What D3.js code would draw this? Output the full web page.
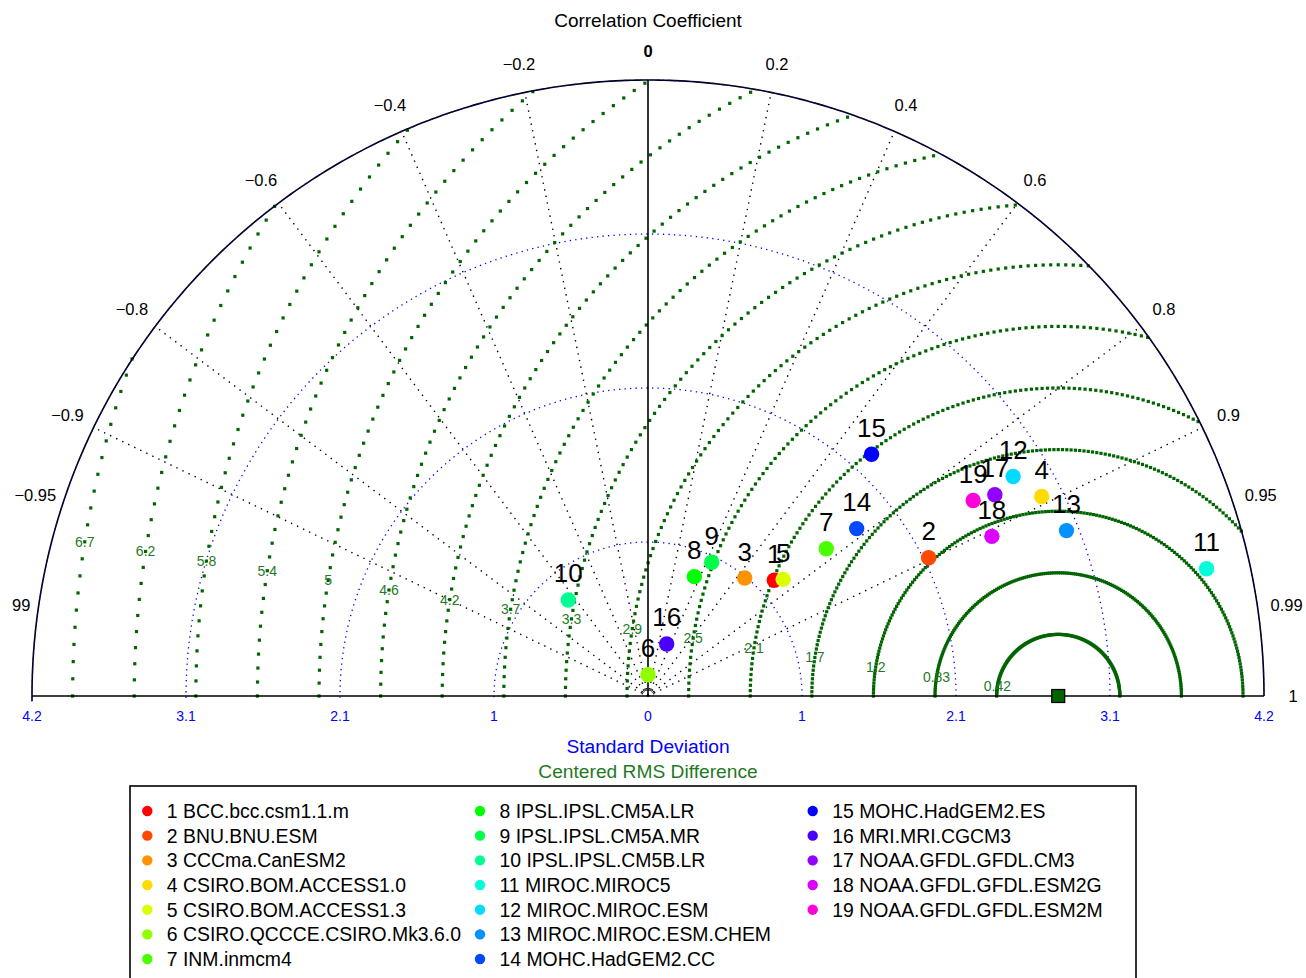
<!DOCTYPE html>
<html><head><meta charset="utf-8">
<script src="https://cdn.jsdelivr.net/npm/d3@7"></script>
<style>
html,body{margin:0;padding:0;background:#fff;overflow:hidden}
text{font-family:"Liberation Sans",Arial,Helvetica,sans-serif}
</style></head>
<body>
<svg id="chart" width="1306" height="978"></svg>
<script>
// ---------- data ----------
const models = ["BCC.bcc.csm1.1.m","BNU.BNU.ESM","CCCma.CanESM2","CSIRO.BOM.ACCESS1.0","CSIRO.BOM.ACCESS1.3",
  "CSIRO.QCCCE.CSIRO.Mk3.6.0","INM.inmcm4","IPSL.IPSL.CM5A.LR","IPSL.IPSL.CM5A.MR","IPSL.IPSL.CM5B.LR",
  "MIROC.MIROC5","MIROC.MIROC.ESM","MIROC.MIROC.ESM.CHEM","MOHC.HadGEM2.CC","MOHC.HadGEM2.ES",
  "MRI.MRI.CGCM3","NOAA.GFDL.GFDL.CM3","NOAA.GFDL.GFDL.ESM2G","NOAA.GFDL.GFDL.ESM2M"];
const stdDev = [1.168,2.133,1.040,3.009,1.217,0.145,1.577,0.873,1.010,0.851,3.906,2.905,3.068,1.824,2.245,0.377,2.734,2.585,2.587];
const corrCoef = [0.737,0.897,0.634,0.892,0.757,0.0,0.771,0.362,0.430,-0.639,0.975,0.857,0.930,0.780,0.679,0.338,0.865,0.907,0.857];
const colors = ["#ff0000","#ff4900","#ff9200","#ffdb00","#dbff00","#92ff00","#49ff00","#00ff00","#00ff49","#00ff92",
  "#00ffdb","#00dbff","#0092ff","#0049ff","#0000ff","#4900ff","#9200ff","#db00ff","#ff00db"];
const refStd = 2.797;
const stdMax = 4.2;
const stdTicks = [-4.2,-3.15,-2.1,-1.05,0,1.05,2.1,3.15,4.2];
const stdTickLabels = ["4.2","3.1","2.1","1","0","1","2.1","3.1","4.2"];
const stdCircles = [1.05,2.1,3.15];
const corrTicks = [-0.99,-0.95,-0.9,-0.8,-0.6,-0.4,-0.2,0,0.2,0.4,0.6,0.8,0.9,0.95,0.99,1];
const corrTickLabels = ["\u22120.99","\u22120.95","\u22120.9","\u22120.8","\u22120.6","\u22120.4","\u22120.2","0","0.2","0.4","0.6","0.8","0.9","0.95","0.99","1"];
const corrLines = [-0.9,-0.8,-0.6,-0.4,-0.2,0.2,0.4,0.6,0.8,0.9];
const rmsLevels = [0.42,0.84,1.26,1.68,2.1,2.52,2.94,3.36,3.78,4.2,4.62,5.04,5.46,5.88,6.3,6.72];
const rmsLabels = ["0.42","0.83","1.2","1.7","2.1","2.5","2.9","3.3","3.7","4.2","4.6","5","5.4","5.8","6.2","6.7"];

// ---------- scales ----------
const svg = d3.select("#chart");
const x = d3.scaleLinear().domain([-stdMax, stdMax]).range([32, 1264]);
const y = d3.scaleLinear().domain([0, stdMax]).range([696, 80]);
const k = x(1) - x(0);
const px = (s, c) => x(s * c);
const py = (s, c) => y(s * Math.sqrt(Math.max(0, 1 - c * c)));
const green = "#006400", textGreen = "#1f7a1f";

svg.append("defs").append("clipPath").attr("id","pageclip")
  .append("rect").attr("x",11).attr("y",0).attr("width",1295).attr("height",978);

// std dotted circles (blue)
const arc = (r) => { const pts = d3.range(0, 181, 0.5).map(a => [x(r*Math.cos(a*Math.PI/180)), y(r*Math.sin(a*Math.PI/180))]); return d3.line()(pts); };
svg.append("g").selectAll("path").data(stdCircles).join("path")
  .attr("d", d => arc(d)).attr("fill","none").attr("stroke","#0000ff")
  .attr("stroke-width",1.3).attr("stroke-dasharray","1.3,4.2");

// correlation dotted lines
svg.append("g").selectAll("line").data(corrLines).join("line")
  .attr("x1", x(0)).attr("y1", y(0))
  .attr("x2", d => px(stdMax, d)).attr("y2", d => py(stdMax, d))
  .attr("stroke","#000").attr("stroke-width",1.4).attr("stroke-dasharray","1.4,5.3");

// RMS dotted circles (green squares every degree)
const rmsDots = [];
rmsLevels.forEach(r => {
  for (let a = 0; a <= 180; a += 1) {
    const sx = refStd + r*Math.cos(a*Math.PI/180), sy = r*Math.sin(a*Math.PI/180);
    if (Math.hypot(sx, sy) <= stdMax + 0.005) rmsDots.push([sx, sy]);
  }
});
svg.append("g").selectAll("rect").data(rmsDots).join("rect")
  .attr("x", d => x(d[0]) - 1.6).attr("y", d => y(d[1]) - 1.6)
  .attr("width", 3.2).attr("height", 3.2).attr("fill", green);

// RMS labels
const la = 171*Math.PI/180;
svg.append("g").selectAll("text").data(rmsLevels).join("text")
  .attr("x", d => x(refStd + d*Math.cos(la))).attr("y", d => y(d*Math.sin(la)))
  .attr("text-anchor","middle").attr("dominant-baseline","central")
  .attr("font-size",14).attr("fill",textGreen).text((d,i) => rmsLabels[i]);

// outer circle
svg.append("path").attr("d", arc(stdMax)).attr("fill","none").attr("stroke","#000").attr("stroke-width",1.6);
svg.append("path").attr("d", arc(stdMax)).attr("fill","none").attr("stroke","#0000ff").attr("stroke-width",1.2).attr("stroke-dasharray","1.3,4.2");

// axis line and vertical zero-corr line
svg.append("line").attr("x1", x(-stdMax)).attr("x2", x(stdMax)).attr("y1", y(0)).attr("y2", y(0)).attr("stroke","#000").attr("stroke-width",1.6);
svg.append("line").attr("x1", x(0)).attr("x2", x(0)).attr("y1", y(0)).attr("y2", y(stdMax)).attr("stroke","#000").attr("stroke-width",1.6);
// tiny arc at origin
svg.append("path").attr("d", d3.line()(d3.range(15,166,5).map(a=>[x(0)+6*Math.cos(a*Math.PI/180), y(0)-6*Math.sin(a*Math.PI/180)])))
  .attr("fill","none").attr("stroke","#000").attr("stroke-width",1);

// std tick labels
svg.append("g").selectAll("text").data(stdTicks).join("text")
  .attr("x", d => x(d)).attr("y", 716).attr("text-anchor","middle").attr("dominant-baseline","central")
  .attr("font-size",14).attr("fill","#0000ff").text((d,i) => stdTickLabels[i]);

// correlation tick labels
const lr = 645/k;
svg.append("g").attr("clip-path","url(#pageclip)").selectAll("text").data(corrTicks).join("text")
  .attr("x", d => px(lr, d)).attr("y", d => py(lr, d))
  .attr("text-anchor","middle").attr("dominant-baseline","central")
  .attr("font-size",16.5).attr("fill","#000")
  .attr("font-weight", d => d === 0 ? "bold" : "normal")
  .text((d,i) => corrTickLabels[i]);

// titles
svg.append("text").attr("x",648).attr("y",20).attr("text-anchor","middle").attr("dominant-baseline","central")
  .attr("font-size",19).text("Correlation Coefficient");
svg.append("text").attr("x",648).attr("y",746).attr("text-anchor","middle").attr("dominant-baseline","central")
  .attr("font-size",19.2).attr("fill","#0000ff").text("Standard Deviation");
svg.append("text").attr("x",648).attr("y",771).attr("text-anchor","middle").attr("dominant-baseline","central")
  .attr("font-size",19.2).attr("fill",textGreen).text("Centered RMS Difference");

// reference point
svg.append("rect").attr("x", x(refStd)-6.5).attr("y", y(0)-6.5).attr("width",13).attr("height",13)
  .attr("fill",green).attr("stroke","#000").attr("stroke-width",1.2);

// model points
const pts = svg.append("g");
pts.selectAll("circle").data(models).join("circle")
  .attr("cx", (d,i) => px(stdDev[i], corrCoef[i])).attr("cy", (d,i) => py(stdDev[i], corrCoef[i]))
  .attr("r", 7.7).attr("fill", (d,i) => colors[i]);
pts.selectAll("text").data(models).join("text")
  .attr("x", (d,i) => px(stdDev[i], corrCoef[i])).attr("y", (d,i) => py(stdDev[i], corrCoef[i]) - 17.5)
  .attr("text-anchor","middle").attr("font-size",26).attr("fill","#000").text((d,i) => i+1);

// legend
const lg = svg.append("g");
lg.append("rect").attr("x",130).attr("y",786).attr("width",1006).attr("height",230)
  .attr("fill","#fff").attr("stroke","#000").attr("stroke-width",1.6);
const colX = [147.3, 480, 812.7];
const rowY = d3.range(7).map(r => 811 + r*24.67);
models.forEach((m,i) => {
  const c = Math.floor(i/7), r = i%7;
  lg.append("circle").attr("cx", colX[c]).attr("cy", rowY[r]).attr("r",5.2).attr("fill", colors[i]);
  lg.append("text").attr("x", colX[c]+19.5).attr("y", rowY[r]).attr("dominant-baseline","central")
    .attr("font-size",19.4).attr("fill","#000").text((i+1) + " " + m);
});
</script>
</body></html>
